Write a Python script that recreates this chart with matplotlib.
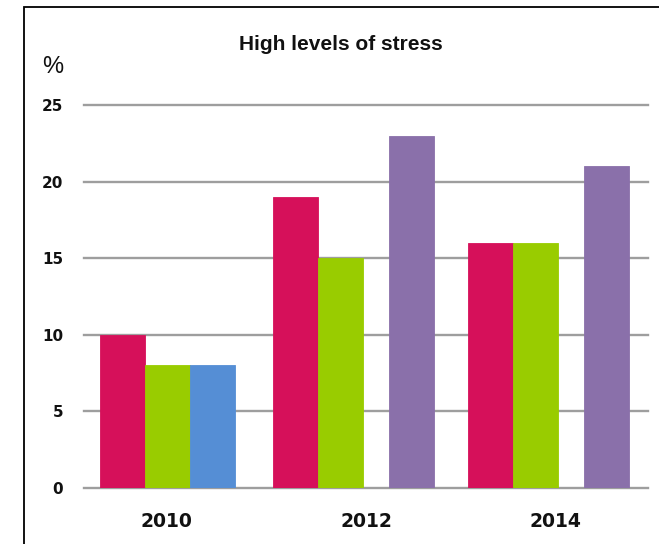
import numpy as np
import matplotlib.pyplot as plt
from matplotlib.patches import Rectangle

# survey values (%)
years = ["2010", "2012", "2014"]
red_vals = [10, 19, 16]
green_vals = [8, 15, 16]
blue_vals = [8, None, None]
purple_vals = [None, 23, 21]
yticks = [0, 5, 10, 15, 20, 25]

red_c = "#D6105A"
green_c = "#99CC00"
blue_c = "#558ED5"
purple_c = "#8A70AA"

fig = plt.figure(figsize=(6.59, 5.44), dpi=100)
ax = fig.add_axes([84/659, 56/544, 564/659, 383/544])

# bar layout inside each year slot
w = 0.24
group_start = np.array([0.085, 1.005, 2.043])
gap = 0.137

def draw(vals, offset, color):
    for x0, v in zip(group_start + offset, vals):
        if v is None:
            continue
        ax.bar(x0, v, width=w, align="edge", color=color,
               edgecolor=color, linewidth=0.6, zorder=3)

draw(red_vals, 0, red_c)
draw(green_vals, w, green_c)
draw(blue_vals, 2*w, blue_c)
draw(purple_vals, 2*w + gap, purple_c)

ax.set_xlim(0, 3)
ax.set_ylim(0, 25)
ax.set_yticks(yticks)
ax.set_yticklabels([str(t) for t in yticks], fontsize=11, fontweight="bold",
                   color="#111111")
ax.set_xticks([0.44, 1.5, 2.51])
ax.set_xticklabels(years, fontsize=13.5, fontweight="bold", color="#111111")
ax.tick_params(axis="y", length=0, pad=15)
ax.tick_params(axis="x", length=0, pad=17)
for s in ax.spines.values():
    s.set_visible(False)
ax.grid(axis="y", color="#9E9E9E", linewidth=1.7, zorder=1)
ax.set_axisbelow(True)
for gl in ax.get_ygridlines():
    gl.set_clip_on(False)

fig.text(341/659, 1 - 44/544, "High levels of stress", ha="center", va="center",
         fontsize=15, fontweight="bold", family="Liberation Sans", color="#111111")
fig.text(53/659, 1 - 67/544, "%", ha="center", va="center",
         fontsize=17, family="Liberation Sans", color="#111111")

# outer frame
fig.add_artist(Rectangle((24/659, -0.1), 1.2, 1 - 7/544 + 0.1,
                         transform=fig.transFigure, fill=False,
                         edgecolor="black", linewidth=1.3))

fig.savefig("out.png", dpi=100)
